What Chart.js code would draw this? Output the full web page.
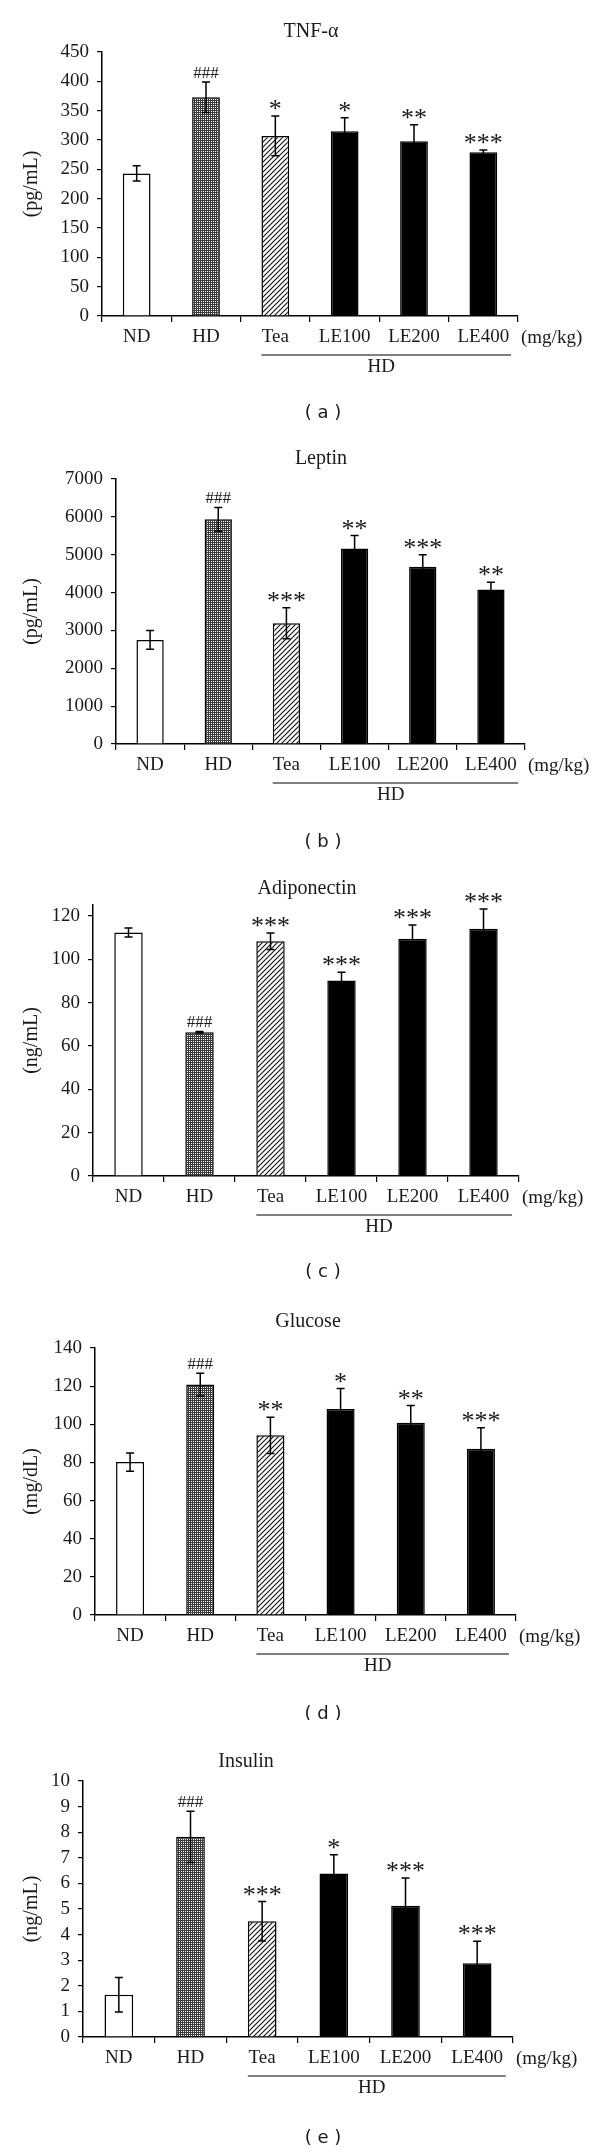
<!DOCTYPE html>
<html>
<head>
<meta charset="utf-8">
<script src="https://cdn.jsdelivr.net/npm/chart.js@4.4.1/dist/chart.umd.min.js"></script>
<style>
  body { margin: 0; background: #fff; }
  .panel { width: 600px; position: relative; }
  canvas { display: block; }
</style>
</head>
<body>
<div class="panel" style="height:430px"><canvas id="panel-a" width="600" height="430"></canvas></div>
<div class="panel" style="height:430px"><canvas id="panel-b" width="600" height="430"></canvas></div>
<div class="panel" style="height:430px"><canvas id="panel-c" width="600" height="430"></canvas></div>
<div class="panel" style="height:430px"><canvas id="panel-d" width="600" height="430"></canvas></div>
<div class="panel" style="height:433px"><canvas id="panel-e" width="600" height="433"></canvas></div>
<script>
// groups on the x axis
const groups = ['ND', 'HD', 'Tea', 'LE100', 'LE200', 'LE400'];

// (a) TNF-alpha, pg/mL
const tnfMean = [243, 373, 307, 315, 298, 279];
const tnfErr = [13, 26, 34, 23, 28, 4];
const tnfSig = ['', '###', '*', '*', '**', '***'];
const tnfTicks = [0, 50, 100, 150, 200, 250, 300, 350, 400, 450];

// (b) Leptin, pg/mL
const leptinMean = [2750, 5935, 3190, 5165, 4680, 4080];
const leptinErr = [250, 315, 410, 345, 318, 195];
const leptinSig = ['', '###', '***', '**', '***', '**'];
const leptinTicks = [0, 1000, 2000, 3000, 4000, 5000, 6000, 7000];

// (c) Adiponectin, ng/mL
const adipoMean = [112.3, 66.3, 108.3, 90.2, 109.4, 114.0];
const adipoErr = [2.1, 0.3, 3.8, 3.8, 6.4, 9.2];
const adipoSig = ['', '###', '***', '***', '***', '***'];
const adipoTicks = [0, 20, 40, 60, 80, 100, 120];

// (d) Glucose, mg/dL
const glucoseMean = [80.2, 120.8, 94.2, 108.0, 100.8, 87.2];
const glucoseErr = [4.8, 6.0, 9.5, 10.8, 9.0, 11.0];
const glucoseSig = ['', '###', '**', '*', '**', '***'];
const glucoseTicks = [0, 20, 40, 60, 80, 100, 120, 140];

// (e) Insulin, ng/mL
const insulinMean = [1.65, 7.82, 4.52, 6.39, 5.13, 2.88];
const insulinErr = [0.67, 1.0, 0.77, 0.73, 1.08, 0.86];
const insulinSig = ['', '###', '***', '*', '***', '***'];
const insulinTicks = [0, 1, 2, 3, 4, 5, 6, 7, 8, 9, 10];

const SERIF = "'Liberation Serif', 'Times New Roman', serif";
const INK = '#1a1a1a';

// fill patterns for HD (fine dotted net) and Tea (diagonal hatch)
function netPattern() {
  const c = document.createElement('canvas');
  c.width = 2; c.height = 2;
  const g = c.getContext('2d');
  g.fillStyle = '#3a3a3a'; g.fillRect(0, 0, 2, 2);
  g.fillStyle = '#fff'; g.fillRect(1, 1, 1, 1);
  return g.createPattern(c, 'repeat');
}
function hatchPattern() {
  const s = 5;
  const c = document.createElement('canvas');
  c.width = s; c.height = s;
  const g = c.getContext('2d');
  g.fillStyle = '#fff'; g.fillRect(0, 0, s, s);
  g.strokeStyle = '#111'; g.lineWidth = 1.1;
  g.beginPath();
  g.moveTo(0, s); g.lineTo(s, 0);
  g.moveTo(-1, 1); g.lineTo(1, -1);
  g.moveTo(s - 1, s + 1); g.lineTo(s + 1, s - 1);
  g.stroke();
  return g.createPattern(c, 'repeat');
}
const fills = ['#fff', netPattern(), hatchPattern(), '#000', '#000', '#000'];

// extra drawing: error bars, significance marks, title, group line, panel letter
const extras = {
  id: 'extras',
  afterDatasetsDraw(chart, args, o) {
    const ctx = chart.ctx;
    const ys = chart.scales.y;
    const xs = chart.scales.x;
    const area = chart.chartArea;
    const meta = chart.getDatasetMeta(0);
    const cat = (area.right - area.left) / groups.length;
    ctx.save();
    ctx.strokeStyle = '#000';
    ctx.lineWidth = 1.5;
    meta.data.forEach((bar, i) => {
      const top = ys.getPixelForValue(o.mean[i] + o.err[i]);
      const bot = ys.getPixelForValue(o.mean[i] - o.err[i]);
      ctx.beginPath();
      ctx.moveTo(bar.x, top); ctx.lineTo(bar.x, bot);
      ctx.moveTo(bar.x - 4, top); ctx.lineTo(bar.x + 4, top);
      ctx.moveTo(bar.x - 4, bot); ctx.lineTo(bar.x + 4, bot);
      ctx.stroke();
      const s = o.sig[i];
      if (!s) return;
      ctx.fillStyle = INK;
      ctx.textAlign = 'center';
      ctx.textBaseline = 'alphabetic';
      if (s[0] === '#') {
        ctx.font = '17px ' + SERIF;
        ctx.fillText(s, bar.x, top - 10 + 17 * 0.34);
      } else {
        ctx.font = '26px ' + SERIF;
        ctx.fillText(s, bar.x, top - 11 + 26 * 0.47);
      }
    });

    ctx.fillStyle = INK;
    ctx.textBaseline = 'middle';
    // chart title
    ctx.textAlign = 'center';
    ctx.font = '20px ' + SERIF;
    ctx.fillText(o.title, o.titleX, o.titleY);
    // unit after the last category
    ctx.textAlign = 'left';
    ctx.font = '19px ' + SERIF;
    ctx.fillText('(mg/kg)', area.right + 3, area.bottom + 22);
    // HD group line under Tea..LE400
    const lineY = area.bottom + 39;
    ctx.lineWidth = 1.2;
    ctx.beginPath();
    ctx.moveTo(xs.getPixelForValue(2) - 0.2 * cat, lineY);
    ctx.lineTo(area.right - 0.1 * cat, lineY);
    ctx.stroke();
    ctx.textAlign = 'center';
    ctx.fillText('HD', xs.getPixelForValue(3) + cat / 2 + 2, area.bottom + 51);
    // panel letter
    ctx.font = "18px 'DejaVu Sans', sans-serif";
    ctx.fillText('( ' + o.letter + ' )', 323, o.letterY);
    ctx.restore();
  }
};

function buildPanel(id, p) {
  const canvas = document.getElementById(id);
  const H = canvas.height;
  new Chart(canvas, {
    type: 'bar',
    data: {
      labels: groups,
      datasets: [{
        data: p.mean,
        backgroundColor: fills,
        borderColor: '#000',
        borderWidth: 1.5,
        barPercentage: 0.4,
        categoryPercentage: 1
      }]
    },
    options: {
      responsive: false,
      animation: false,
      events: [],
      layout: { padding: { left: 0, right: 600 - p.right, top: p.top, bottom: H - p.bottom - 30 } },
      plugins: {
        legend: { display: false },
        tooltip: { enabled: false },
        extras: p
      },
      scales: {
        x: {
          offset: true,
          grid: { offset: true, drawOnChartArea: false, drawTicks: true, tickLength: 6, color: '#000', lineWidth: 1.2 },
          border: { display: true, color: '#000', width: 1.5 },
          ticks: { color: INK, font: { family: SERIF, size: 19 }, padding: 4, maxRotation: 0, autoSkip: false },
          afterFit: s => { s.height = 30; }
        },
        y: {
          min: 0,
          max: p.max,
          afterBuildTicks: ax => { ax.ticks = p.ticks.map(v => ({ value: v })); },
          grid: { drawOnChartArea: false, drawTicks: true, tickLength: 5, color: '#000', lineWidth: 1.2 },
          border: { display: true, color: '#000', width: 1.5 },
          ticks: { color: INK, font: { family: SERIF, size: 19 }, padding: 8, autoSkip: false, callback: v => String(v) },
          title: { display: true, text: p.yTitle, color: INK, font: { family: SERIF, size: 20 }, padding: { top: 20, bottom: 0 } },
          afterFit: s => { s.width = p.left; }
        }
      }
    },
    plugins: [extras]
  });
}

buildPanel('panel-a', {
  title: 'TNF-\u03b1', yTitle: '(pg/mL)', letter: 'a',
  mean: tnfMean, err: tnfErr, sig: tnfSig, ticks: tnfTicks, max: 450,
  left: 102, right: 518, top: 52, bottom: 316, titleX: 311, titleY: 32, letterY: 413
});
buildPanel('panel-b', {
  title: 'Leptin', yTitle: '(pg/mL)', letter: 'b',
  mean: leptinMean, err: leptinErr, sig: leptinSig, ticks: leptinTicks, max: 7000,
  left: 116, right: 525, top: 49, bottom: 314, titleX: 321, titleY: 29, letterY: 412
});
buildPanel('panel-c', {
  title: 'Adiponectin', yTitle: '(ng/mL)', letter: 'c',
  mean: adipoMean, err: adipoErr, sig: adipoSig, ticks: adipoTicks, max: 125,
  left: 93, right: 519, top: 45, bottom: 316, titleX: 307, titleY: 29, letterY: 412
});
buildPanel('panel-d', {
  title: 'Glucose', yTitle: '(mg/dL)', letter: 'd',
  mean: glucoseMean, err: glucoseErr, sig: glucoseSig, ticks: glucoseTicks, max: 140,
  left: 95, right: 516, top: 58, bottom: 325, titleX: 308, titleY: 32, letterY: 424
});
buildPanel('panel-e', {
  title: 'Insulin', yTitle: '(ng/mL)', letter: 'e',
  mean: insulinMean, err: insulinErr, sig: insulinSig, ticks: insulinTicks, max: 10,
  left: 83, right: 513, top: 61, bottom: 317, titleX: 246, titleY: 42, letterY: 418
});
</script>
</body>
</html>
